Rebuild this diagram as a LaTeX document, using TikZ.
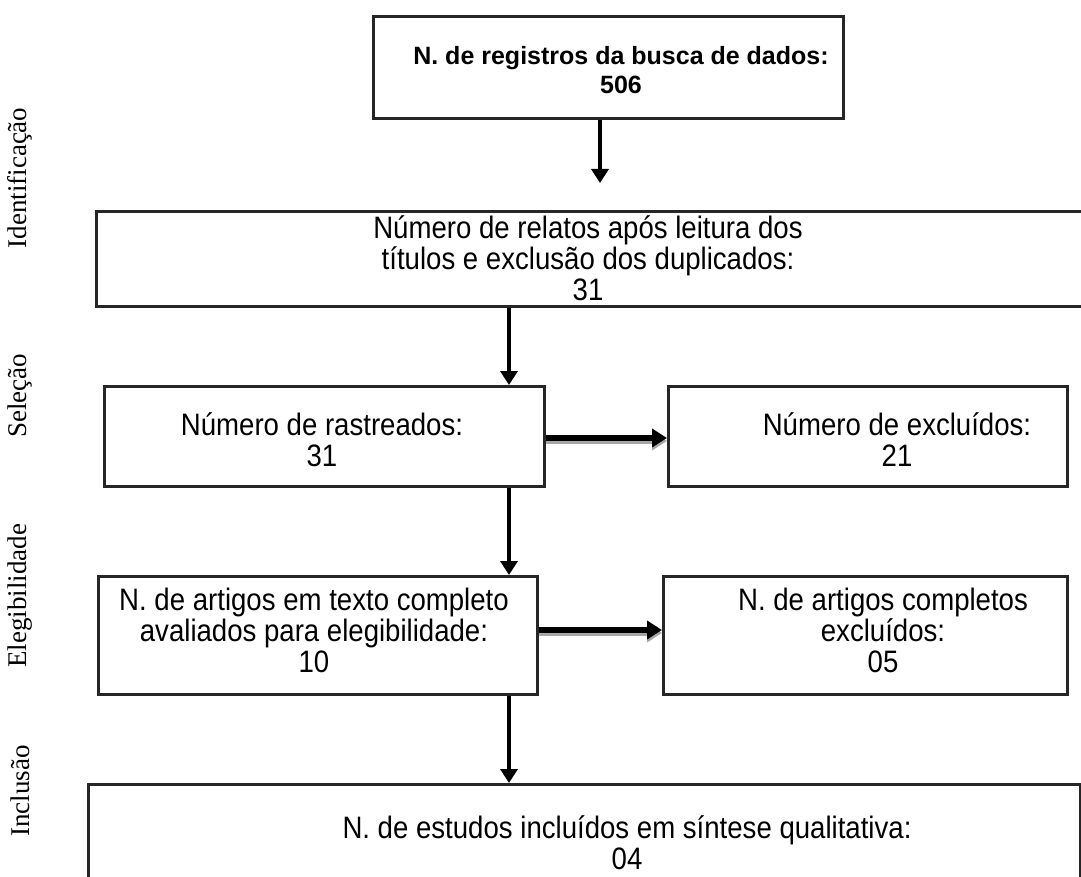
\documentclass[tikz,border=0pt]{standalone}
\usepackage{fontspec}
\setmainfont{Liberation Sans}
\newfontfamily\boxfont[FakeStretch=0.89]{Liberation Sans}
\newfontfamily\sidefont{Liberation Serif}
\usetikzlibrary{arrows.meta}
\begin{document}
\begin{tikzpicture}[x=1pt,y=-1pt,
  box/.style={draw=black!85, line width=2.6pt, inner sep=0pt, anchor=north west},
  txt/.style={align=center, font=\boxfont\fontsize{31}{31}\selectfont, inner sep=0pt},
  bigtxt/.style={align=center, font=\bfseries\fontsize{25}{29}\selectfont, inner sep=0pt},
  side/.style={rotate=90, font=\sidefont\fontsize{27}{30}\selectfont, inner sep=0pt},
  varr/.style={line width=4.5pt, -{Triangle[length=14pt,width=17pt]}},
  harr/.style={line width=5.5pt, -{Triangle[length=15pt,width=18pt]}},
  shad/.style={line width=5.5pt, black!35, -{Triangle[length=15pt,width=18pt]}}
]
\useasboundingbox (0,0) rectangle (1081,877);
\begin{scope}
\clip (0,0) rectangle (1081,877);
% boxes
\node[box, minimum width=470pt, minimum height=102pt] (b1) at (372,15) {};
\node[box, minimum width=1000pt, minimum height=95pt] (b2) at (95,210) {};
\node[box, minimum width=440pt, minimum height=100pt] (b3) at (103,385) {};
\node[box, minimum width=399pt, minimum height=100pt] (b4) at (667,385) {};
\node[box, minimum width=439pt, minimum height=118pt] (b5) at (97,575) {};
\node[box, minimum width=404pt, minimum height=118pt] (b6) at (662,575) {};
\node[box, minimum width=992pt, minimum height=130pt] (b7) at (87,783) {};
\end{scope}
% texts
\node[bigtxt] (t1) at (621,70) {N. de registros da busca de dados:\\506};
\node[txt] (t2) at (588,258) {Número de relatos após leitura dos\\títulos e exclusão dos duplicados:\\31};
\node[txt] (t3) at (322,440) {Número de rastreados:\\31};
\node[txt] (t4) at (897,440) {Número de excluídos:\\21};
\node[txt] (t5) at (314,630) {N. de artigos em texto completo\\avaliados para elegibilidade:\\10};
\node[txt] (t6) at (883,630) {N. de artigos completos\\excluídos:\\05};
\node[txt] (t7) at (627,843) {N. de estudos incluídos em síntese qualitativa:\\04};
% side labels
\node[side] (s1) at (20,178) {Identificação};
\node[side] (s2) at (20,396) {Seleção};
\node[side] (s3) at (20,596) {Elegibilidade};
\node[side] (s4) at (20,791) {Inclusão};
% arrows
\coordinate (ax) at (509,0);
\coordinate (ax1) at (600,0);
\coordinate (ay1) at (0,438);
\coordinate (ay2) at (0,630);
\draw[varr, shorten >=27pt] (b1.south -| ax1) -- (b2.north -| ax1);
\draw[varr] (b2.south -| ax) -- (b3.north -| ax);
\draw[varr] (b3.south -| ax) -- (b5.north -| ax);
\draw[varr] (b5.south -| ax) -- (b7.north -| ax);
\draw[shad] ([yshift=-3pt]b3.east |- ay1) -- ([yshift=-3pt]b4.west |- ay1);
\draw[harr] (b3.east |- ay1) -- (b4.west |- ay1);
\draw[shad] ([yshift=-3pt]b5.east |- ay2) -- ([yshift=-3pt]b6.west |- ay2);
\draw[harr] (b5.east |- ay2) -- (b6.west |- ay2);
\end{tikzpicture}
\end{document}
